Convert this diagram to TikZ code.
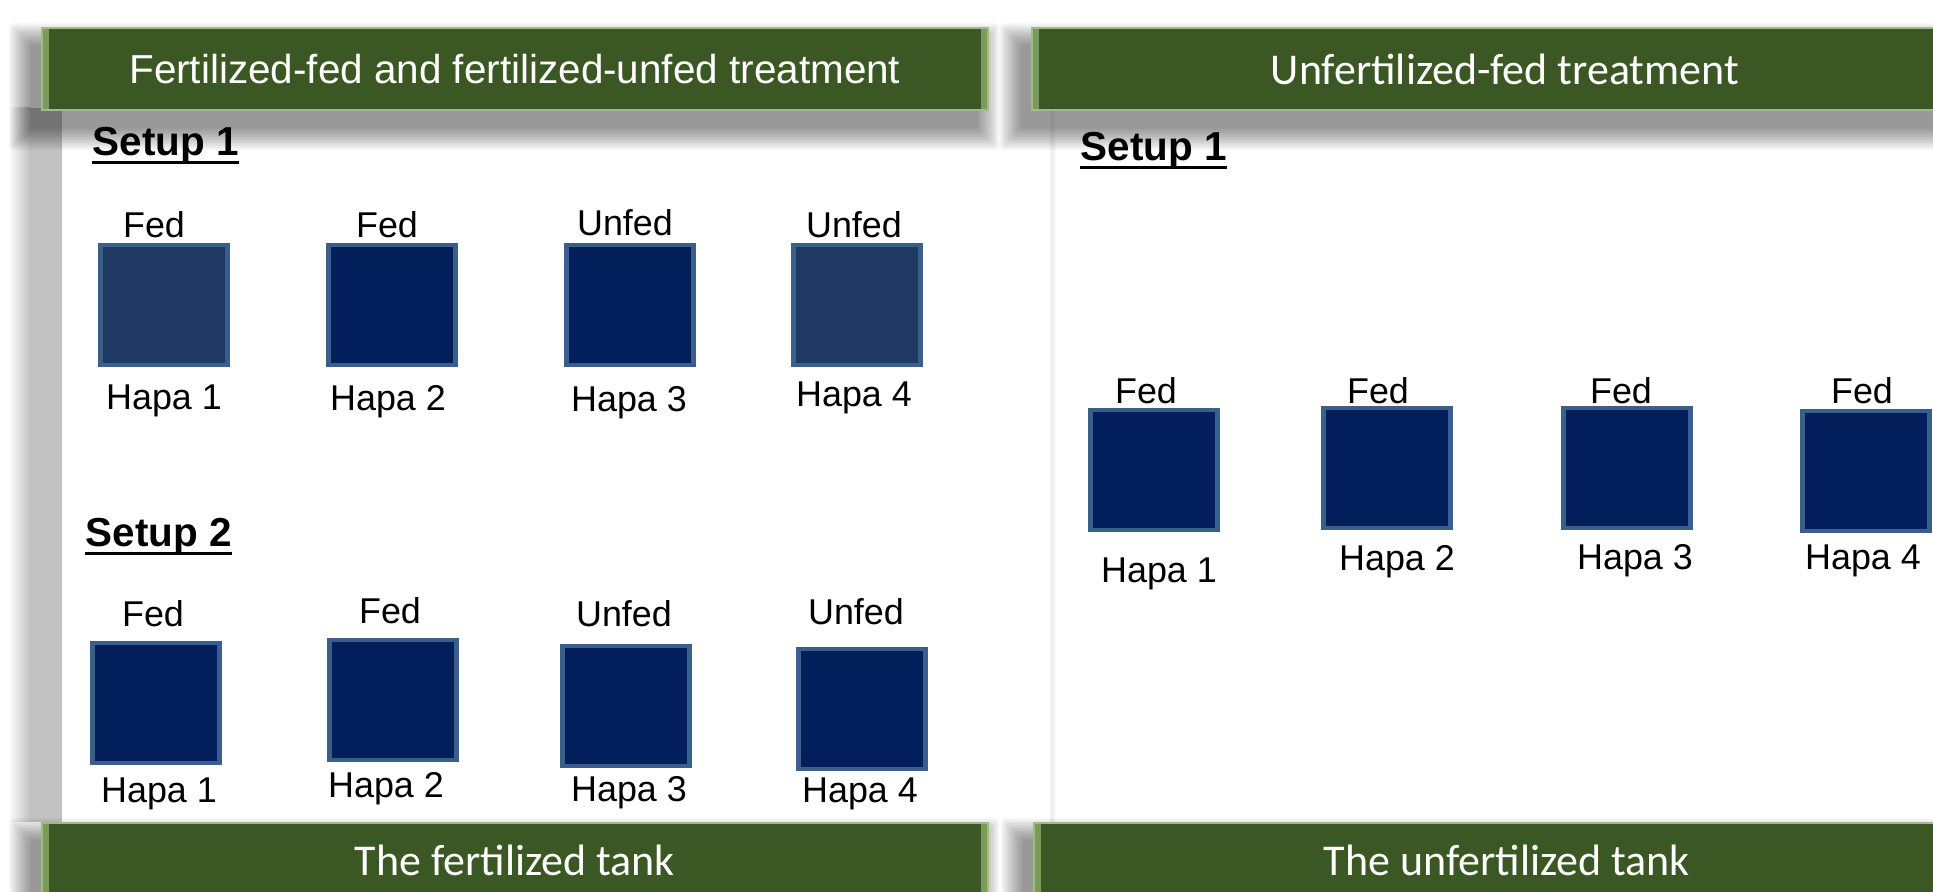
\documentclass[tikz,border=0pt]{standalone}
\usepackage{fontspec}
\setmainfont{Liberation Sans}
\newfontfamily\calibri{Carlito}
\usetikzlibrary{backgrounds}

\definecolor{bannergreen}{HTML}{3B5723}
\definecolor{banneredge}{HTML}{7A9C5A}
\definecolor{hapablue}{HTML}{021F5B}
\definecolor{hapadim}{HTML}{203864}
\definecolor{hapaedge}{HTML}{3A5F8B}

\tikzset{
    banner/.style={rectangle, fill=bannergreen, draw=banneredge!70!white, line width=0.6pt,
        text=white, minimum width=9.45cm, minimum height=0.82cm, anchor=north west,
        inner sep=0pt,
        path picture={
            \fill[banneredge] (path picture bounding box.north west) rectangle ([xshift=2pt]path picture bounding box.south west);
            \fill[banneredge] (path picture bounding box.north east) rectangle ([xshift=-2pt]path picture bounding box.south east);
        }},
    hapa/.style={rectangle, fill=hapablue, draw=hapaedge, line width=1.2pt,
        minimum width=1.27cm, minimum height=1.2cm, inner sep=0pt},
    lbl/.style={font=\fontsize{10.2}{12}\selectfont, inner sep=0pt},
    setup/.style={font=\fontsize{11.5}{13}\selectfont\bfseries, anchor=west, inner sep=0pt},
    uline/.style={line width=0.9pt},
}

% soft shadow behind a banner
\newcommand{\bannershadow}[1]{%
    \foreach \r in {0,...,10}
        \fill[black, opacity=0.045, rounded corners=1pt]
            ([xshift=-3pt-\r*0.6pt, yshift=-5pt+\r*0.6pt]#1.north west) rectangle
            ([xshift=-3pt+\r*0.6pt, yshift=-5pt-\r*0.6pt]#1.south east);
}

\begin{document}
\begin{tikzpicture}[x=0.01cm, y=-0.01cm]
    \useasboundingbox (0, 0) rectangle (1933, 892);

    % fertilized tank, setup 1
    \node[setup] (s1l) at (92, 146) {Setup 1};
    \draw[uline] ([yshift=0.7pt]s1l.south west) -- ([yshift=0.7pt]s1l.south east);

    \node[lbl] (fl1) at (154, 225) {Fed};
    \node[lbl] (fl2) at (387, 225) {Fed};
    \node[lbl] (fl3) at (625, 223) {Unfed};
    \node[lbl] (fl4) at (854, 225) {Unfed};

    \node[hapa, fill=hapadim] (la1) at (164, 305) {};
    \node[hapa] (la2) at (392, 305) {};
    \node[hapa] (la3) at (630, 305) {};
    \node[hapa, fill=hapadim] (la4) at (857, 305) {};

    \node[lbl] (hl1) at (164, 401) {Hapa 1};
    \node[lbl] (hl2) at (388, 402) {Hapa 2};
    \node[lbl] (hl3) at (629, 403) {Hapa 3};
    \node[lbl] (hl4) at (854, 398) {Hapa 4};

    % fertilized tank, setup 2
    \node[setup] (s2l) at (85, 537) {Setup 2};
    \draw[uline] ([yshift=0.7pt]s2l.south west) -- ([yshift=0.7pt]s2l.south east);

    \node[lbl] (fm1) at (153, 614) {Fed};
    \node[lbl] (fm2) at (390, 611) {Fed};
    \node[lbl] (fm3) at (624, 614) {Unfed};
    \node[lbl] (fm4) at (856, 612) {Unfed};

    \node[hapa] (lb1) at (156, 703) {};
    \node[hapa] (lb2) at (393, 700) {};
    \node[hapa] (lb3) at (626, 706) {};
    \node[hapa] (lb4) at (862, 709) {};

    \node[lbl] (hm1) at (159, 794) {Hapa 1};
    \node[lbl] (hm2) at (386, 789) {Hapa 2};
    \node[lbl] (hm3) at (629, 793) {Hapa 3};
    \node[lbl] (hm4) at (860, 794) {Hapa 4};

    % unfertilized tank
    \node[setup] (s1r) at (1080, 151) {Setup 1};
    \draw[uline] ([yshift=0.7pt]s1r.south west) -- ([yshift=0.7pt]s1r.south east);

    \node[lbl] (fr1) at (1146, 391) {Fed};
    \node[lbl] (fr2) at (1378, 391) {Fed};
    \node[lbl] (fr3) at (1621, 391) {Fed};
    \node[lbl] (fr4) at (1862, 391) {Fed};

    \node[hapa] (r1) at (1154, 470) {};
    \node[hapa] (r2) at (1387, 468) {};
    \node[hapa] (r3) at (1627, 468) {};
    \node[hapa] (r4) at (1866, 471) {};

    \node[lbl] (hr1) at (1159, 574) {Hapa 1};
    \node[lbl] (hr2) at (1397, 562) {Hapa 2};
    \node[lbl] (hr3) at (1635, 561) {Hapa 3};
    \node[lbl] (hr4) at (1863, 561) {Hapa 4};

    % banners
    \node[banner, font=\fontsize{11.5}{13}\selectfont] (ttl) at (41, 27) {Fertilized-fed and fertilized-unfed treatment};
    \node[banner, font=\calibri\fontsize{12.5}{14}\selectfont] (ttr) at (1031, 27) {Unfertilized-fed treatment};
    \node[banner, font=\calibri\fontsize{12.5}{14}\selectfont, minimum height=0.75cm] (tbl) at (41, 822) {The fertilized tank};
    \node[banner, font=\calibri\fontsize{12.5}{14}\selectfont, minimum height=0.75cm] (tbr) at (1033, 822) {The unfertilized tank};

    \begin{pgfonlayer}{background}
        \fill[white] (0, 0) rectangle (1933, 892);
        % panel edges
        \shade[left color=white, right color=black!24] (8, 108) rectangle (30, 822);
        \fill[black!24] (30, 108) rectangle (62, 822);
        \fill[black!5] (1050, 110) rectangle (1055, 822);
        \bannershadow{ttl}
        \bannershadow{ttr}
        \bannershadow{tbl}
        \bannershadow{tbr}
    \end{pgfonlayer}
\end{tikzpicture}
\end{document}
